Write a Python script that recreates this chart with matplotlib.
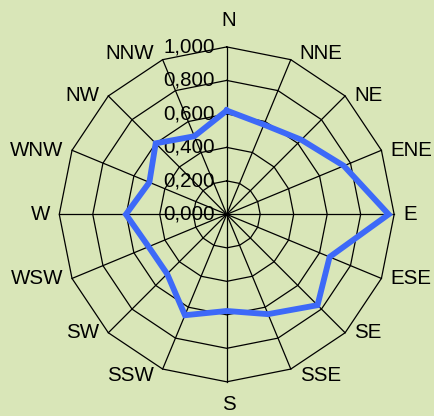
import matplotlib.pyplot as plt
import numpy as np

# --- wind directions and values
directions = ['N', 'NNE', 'NE', 'ENE', 'E', 'ESE', 'SE', 'SSE',
              'S', 'SSW', 'SW', 'WSW', 'W', 'WNW', 'NW', 'NNW']
values = [0.620, 0.580, 0.630, 0.757, 0.967, 0.665, 0.767, 0.645,
          0.577, 0.652, 0.503, 0.505, 0.602, 0.500, 0.600, 0.505]
rings = [0.2, 0.4, 0.6, 0.8, 1.0]
ring_labels = [0.0, 0.2, 0.4, 0.6, 0.8, 1.0]

bg = '#d9e6b8'
line_col = '#3d69f8'
plt.rcParams['font.family'] = ['Liberation Sans', 'DejaVu Sans']

n = len(directions)
theta = np.arange(n) * 2 * np.pi / n
theta_c = np.append(theta, theta[0])

fig = plt.figure(figsize=(4.34, 4.16), dpi=100, facecolor=bg)
ax = fig.add_axes([0.1364, 0.0822, 0.772, 0.805], projection='polar')
ax.set_theta_zero_location('N')
ax.set_theta_direction(-1)
ax.set_ylim(0, 1)
ax.axis('off')

# polygon grid rings and spokes
for r in rings:
    ax.plot(theta_c, [r] * (n + 1), color='black', lw=0.9, clip_on=False)
for t in theta:
    ax.plot([t, t], [0, 1], color='black', lw=0.9, clip_on=False)

# data
vals_c = np.append(values, values[0])
ax.plot(theta_c, vals_c, color=line_col, lw=4.2, solid_joinstyle='miter',
        clip_on=False, zorder=5)

# value axis labels
for v in ring_labels:
    ax.annotate(f'{v:.3f}'.replace('.', ','), xy=(0, v), xytext=(-12, 0),
                textcoords='offset pixels', ha='right', va='center',
                fontsize=14.8, zorder=4)

# direction labels
for t, name in zip(theta, directions):
    s, c = np.sin(t), np.cos(t)
    if abs(s) < 0.05:
        ha = 'center'
        dx = 2
        dy = 26 if c > 0 else -23
    else:
        ha = 'left' if s > 0 else 'right'
        dx = 9 * np.sign(s)
        dy = 0
        if abs(c) > 0.9:
            dy = 6 * np.sign(c)
    ax.annotate(name, xy=(t, 1.0), xytext=(dx, dy), textcoords='offset pixels',
                ha=ha, va='center', fontsize=14.8, annotation_clip=False)

fig.savefig('out.png', dpi=100, facecolor=bg)
